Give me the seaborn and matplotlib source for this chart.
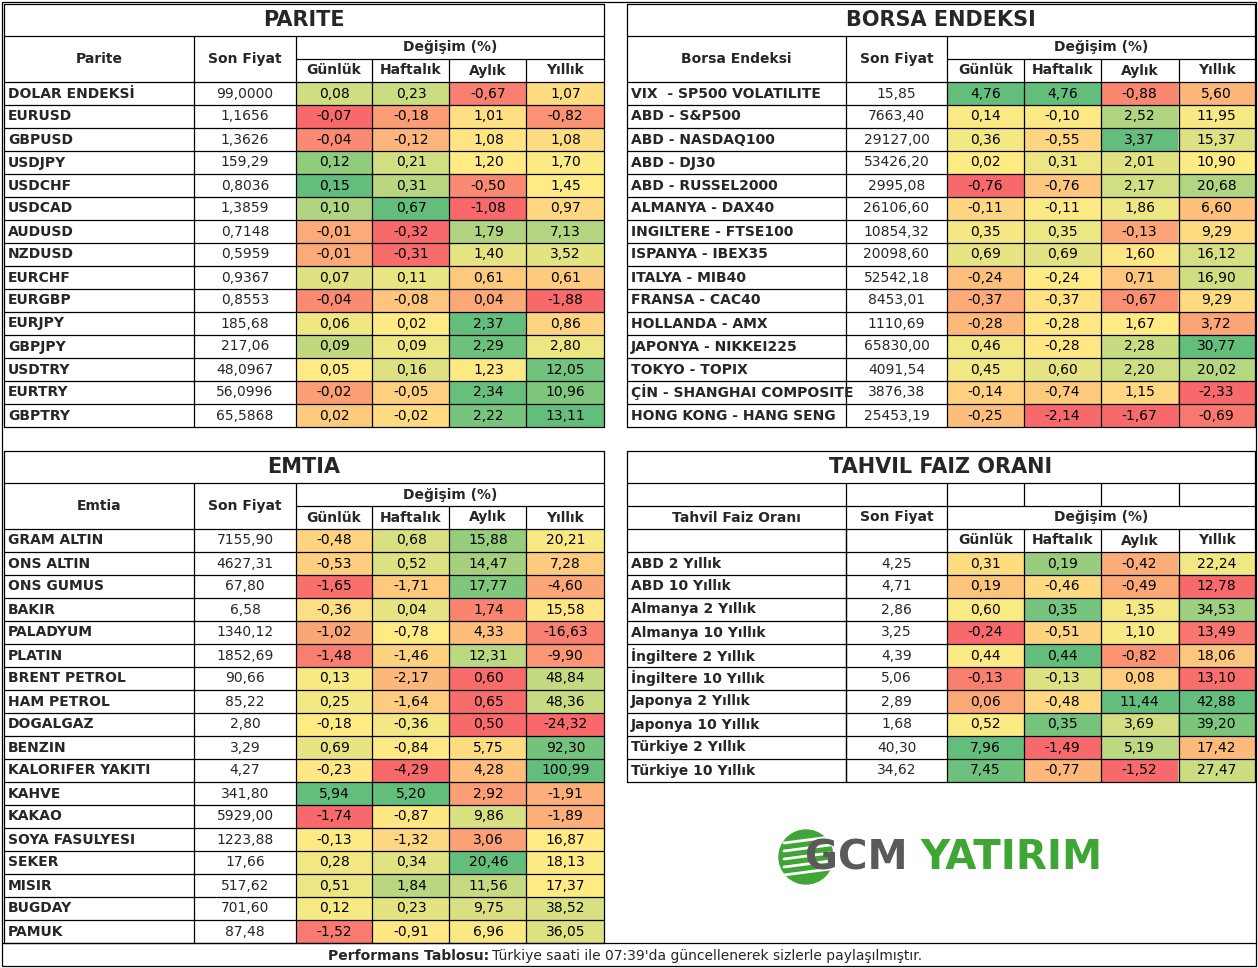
import numpy as np
import matplotlib
matplotlib.use("Agg")
import matplotlib.pyplot as plt
import seaborn as sns
from matplotlib.colors import LinearSegmentedColormap
from matplotlib.patches import Circle, Rectangle

sns.set_theme(style="white")
plt.rcParams['font.family'] = ['DejaVu Sans']

# ---------------- DATA ----------------
parite_names = ["DOLAR ENDEKSİ","EURUSD","GBPUSD","USDJPY","USDCHF","USDCAD","AUDUSD","NZDUSD",
                "EURCHF","EURGBP","EURJPY","GBPJPY","USDTRY","EURTRY","GBPTRY"]
parite_price = ["99,0000","1,1656","1,3626","159,29","0,8036","1,3859","0,7148","0,5959",
                "0,9367","0,8553","185,68","217,06","48,0967","56,0996","65,5868"]
parite_gun = [0.08,-0.07,-0.04,0.12,0.15,0.10,-0.01,-0.01,0.07,-0.04,0.06,0.09,0.05,-0.02,0.02]
parite_haf = [0.23,-0.18,-0.12,0.21,0.31,0.67,-0.32,-0.31,0.11,-0.08,0.02,0.09,0.16,-0.05,-0.02]
parite_ay = [-0.67,1.01,1.08,1.20,-0.50,-1.08,1.79,1.40,0.61,0.04,2.37,2.29,1.23,2.34,2.22]
parite_yil = [1.07,-0.82,1.08,1.70,1.45,0.97,7.13,3.52,0.61,-1.88,0.86,2.80,12.05,10.96,13.11]

borsa_names = ["VIX  - SP500 VOLATILITE","ABD - S&P500","ABD - NASDAQ100","ABD - DJ30","ABD - RUSSEL2000",
               "ALMANYA - DAX40","INGILTERE - FTSE100","ISPANYA - IBEX35","ITALYA - MIB40","FRANSA - CAC40",
               "HOLLANDA - AMX","JAPONYA - NIKKEI225","TOKYO - TOPIX","ÇİN - SHANGHAI COMPOSITE","HONG KONG - HANG SENG"]
borsa_price = ["15,85","7663,40","29127,00","53426,20","2995,08","26106,60","10854,32","20098,60",
               "52542,18","8453,01","1110,69","65830,00","4091,54","3876,38","25453,19"]
borsa_gun = [4.76,0.14,0.36,0.02,-0.76,-0.11,0.35,0.69,-0.24,-0.37,-0.28,0.46,0.45,-0.14,-0.25]
borsa_haf = [4.76,-0.10,-0.55,0.31,-0.76,-0.11,0.35,0.69,-0.24,-0.37,-0.28,-0.28,0.60,-0.74,-2.14]
borsa_ay = [-0.88,2.52,3.37,2.01,2.17,1.86,-0.13,1.60,0.71,-0.67,1.67,2.28,2.20,1.15,-1.67]
borsa_yil = [5.60,11.95,15.37,10.90,20.68,6.60,9.29,16.12,16.90,9.29,3.72,30.77,20.02,-2.33,-0.69]

emtia_names = ["GRAM ALTIN","ONS ALTIN","ONS GUMUS","BAKIR","PALADYUM","PLATIN","BRENT PETROL","HAM PETROL",
               "DOGALGAZ","BENZIN","KALORIFER YAKITI","KAHVE","KAKAO","SOYA FASULYESI","SEKER","MISIR","BUGDAY","PAMUK"]
emtia_price = ["7155,90","4627,31","67,80","6,58","1340,12","1852,69","90,66","85,22","2,80","3,29","4,27",
               "341,80","5929,00","1223,88","17,66","517,62","701,60","87,48"]
emtia_gun = [-0.48,-0.53,-1.65,-0.36,-1.02,-1.48,0.13,0.25,-0.18,0.69,-0.23,5.94,-1.74,-0.13,0.28,0.51,0.12,-1.52]
emtia_haf = [0.68,0.52,-1.71,0.04,-0.78,-1.46,-2.17,-1.64,-0.36,-0.84,-4.29,5.20,-0.87,-1.32,0.34,1.84,0.23,-0.91]
emtia_ay = [15.88,14.47,17.77,1.74,4.33,12.31,0.60,0.65,0.50,5.75,4.28,2.92,9.86,3.06,20.46,11.56,9.75,6.96]
emtia_yil = [20.21,7.28,-4.60,15.58,-16.63,-9.90,48.84,48.36,-24.32,92.30,100.99,-1.91,-1.89,16.87,18.13,17.37,38.52,36.05]

tahvil_names = ["ABD 2 Yıllık","ABD 10 Yıllık","Almanya 2 Yıllık","Almanya 10 Yıllık","İngiltere 2 Yıllık",
                "İngiltere 10 Yıllık","Japonya 2 Yıllık","Japonya 10 Yıllık","Türkiye 2 Yıllık","Türkiye 10 Yıllık"]
tahvil_price = ["4,25","4,71","2,86","3,25","4,39","5,06","2,89","1,68","40,30","34,62"]
tahvil_gun = [0.31,0.19,0.60,-0.24,0.44,-0.13,0.06,0.52,7.96,7.45]
tahvil_haf = [0.19,-0.46,0.35,-0.51,0.44,-0.13,-0.48,0.35,-1.49,-0.77]
tahvil_ay = [-0.42,-0.49,1.35,1.10,-0.82,0.08,11.44,3.69,5.19,-1.52]
tahvil_yil = [22.24,12.78,34.53,13.49,18.06,13.10,42.88,39.20,17.42,27.47]

change_labels = ["Günlük","Haftalık","Aylık","Yıllık"]

# ---------------- FIGURE ----------------
W, H = 1258, 968
fig = plt.figure(figsize=(W/100, H/100), dpi=100)
fig.patch.set_facecolor("white")
cmap = LinearSegmentedColormap.from_list("xl", ["#F8696B", "#FFEB84", "#63BE7B"])
RH = 23

def norm_col(v):
    v = np.asarray(v, float)
    mn, mx, md = v.min(), v.max(), np.median(v)
    out = np.empty_like(v)
    for i, x in enumerate(v):
        if x <= md:
            out[i] = 0.5 * (x - mn) / (md - mn) if md > mn else 0.5
        else:
            out[i] = 0.5 + 0.5 * (x - md) / (mx - md)
    return out

def fmt(x):
    return f"{x:.2f}".replace(".", ",")

def heat(cols, x0, x1, y0, n):
    data = np.column_stack([norm_col(c) for c in cols])
    ann = np.array([[fmt(c[i]) for c in cols] for i in range(n)])
    y1 = y0 + n * RH
    ax = fig.add_axes([x0 / W, 1 - y1 / H, (x1 - x0) / W, (y1 - y0) / H])
    sns.heatmap(data, ax=ax, cmap=cmap, vmin=0, vmax=1, cbar=False, annot=ann, fmt="",
                annot_kws={"fontsize": 10, "color": "black"}, xticklabels=False, yticklabels=False)
    ax.set_axis_off()

ov = None

def table(x, title, y_top, names, prices, cols, first_label, tahvil=False):
    # x: column boundaries (7 values)
    n = len(names)
    if tahvil:
        y_data = y_top + 32 + 3 * RH
    else:
        y_data = y_top + 32 + 2 * RH
    heat(cols, x[2], x[6], y_data, n)
    return (x, title, y_top, names, prices, n, y_data, first_label, tahvil)

specs = [
    table([4,194,296,372,449,526,604], "PARITE", 4, parite_names, parite_price,
          [parite_gun, parite_haf, parite_ay, parite_yil], "Parite"),
    table([627,846,947,1024,1101,1179,1255], "BORSA ENDEKSI", 4, borsa_names, borsa_price,
          [borsa_gun, borsa_haf, borsa_ay, borsa_yil], "Borsa Endeksi"),
    table([4,194,296,372,449,526,604], "EMTIA", 451, emtia_names, emtia_price,
          [emtia_gun, emtia_haf, emtia_ay, emtia_yil], "Emtia"),
    table([627,846,947,1024,1101,1179,1255], "TAHVIL FAIZ ORANI", 451, tahvil_names, tahvil_price,
          [tahvil_gun, tahvil_haf, tahvil_ay, tahvil_yil], "Tahvil Faiz Oranı", tahvil=True),
]

ov = fig.add_axes([0, 0, 1, 1])
ov.set_xlim(0, W); ov.set_ylim(H, 0); ov.set_axis_off()
ov.patch.set_alpha(0)
LW = 0.9
def hl(y, a, b): ov.plot([a, b], [y, y], color="black", lw=LW)
def vl(x, a, b): ov.plot([x, x], [a, b], color="black", lw=LW)

for (x, title, yt, names, prices, n, yd, lab, tah) in specs:
    yb = yd + n * RH
    ov.text((x[0] + x[6]) / 2, yt + 16, title, ha="center", va="center", fontsize=15, fontweight="bold")
    hl(yt, x[0], x[6]); hl(yt + 32, x[0], x[6])
    vl(x[0], yt, yb); vl(x[6], yt, yb)
    if not tah:
        h1 = yt + 32
        ov.text((x[0]+x[1])/2, h1 + RH, lab, ha="center", va="center", fontsize=10, fontweight="bold")
        ov.text((x[1]+x[2])/2, h1 + RH, "Son Fiyat", ha="center", va="center", fontsize=10, fontweight="bold")
        ov.text((x[2]+x[6])/2, h1 + RH/2, "Değişim (%)", ha="center", va="center", fontsize=10, fontweight="bold")
        hl(h1 + RH, x[2], x[6])
        for j, l in enumerate(change_labels):
            ov.text((x[2+j]+x[3+j])/2, h1 + 1.5*RH, l, ha="center", va="center", fontsize=10, fontweight="bold")
        vl(x[1], h1, yb); vl(x[2], h1, yb)
        for k in range(3, 6):
            vl(x[k], h1 + RH, yb)
    else:
        h1 = yt + 32
        for k in range(1, 6):
            vl(x[k], h1, h1 + RH)
        hl(h1 + RH, x[0], x[6])
        ov.text((x[0]+x[1])/2, h1 + 1.5*RH, lab, ha="center", va="center", fontsize=10, fontweight="bold")
        ov.text((x[1]+x[2])/2, h1 + 1.5*RH, "Son Fiyat", ha="center", va="center", fontsize=10, fontweight="bold")
        ov.text((x[2]+x[6])/2, h1 + 1.5*RH, "Değişim (%)", ha="center", va="center", fontsize=10, fontweight="bold")
        hl(h1 + 2*RH, x[0], x[6])
        for j, l in enumerate(change_labels):
            ov.text((x[2+j]+x[3+j])/2, h1 + 2.5*RH, l, ha="center", va="center", fontsize=10, fontweight="bold")
        vl(x[1], h1 + RH, yb); vl(x[2], h1 + RH, yb)
        for k in range(3, 6):
            vl(x[k], h1 + 2*RH, yb)
        vl(x[1], h1 + 2*RH, yb)
    for i in range(n + 1):
        hl(yd + i * RH, x[0], x[6])
    for i in range(n):
        yc = yd + i * RH + RH / 2
        ov.text(x[0] + 4, yc, names[i], ha="left", va="center", fontsize=10, fontweight="bold")
        ov.text((x[1]+x[2])/2, yc, prices[i], ha="center", va="center", fontsize=10)

# outer frame and footer
ov.add_patch(Rectangle((2, 2), W - 4, H - 4, fill=False, ec="black", lw=LW))
hl(943, 2, W - 2)
ov.text(489, 956, "Performans Tablosu:", ha="right", va="center", fontsize=10, fontweight="bold")
ov.text(492, 956, "Türkiye saati ile 07:39'da güncellenerek sizlerle paylaşılmıştır.",
        ha="left", va="center", fontsize=10)

# logo
ov.add_patch(Circle((806, 857), 27, color="#3FA535"))
for dy in (-14, -6, 2, 10, 18):
    ov.plot([784, 830], [857 + dy, 857 + dy - 6], color="white", lw=2)
ov.text(805, 858, "GCM", ha="left", va="center", fontsize=29, fontweight="bold", color="#5A5A5A")
ov.text(920, 858, "YATIRIM", ha="left", va="center", fontsize=29, fontweight="bold", color="#3FA535")

fig.savefig("out.png", dpi=100, facecolor="white")
